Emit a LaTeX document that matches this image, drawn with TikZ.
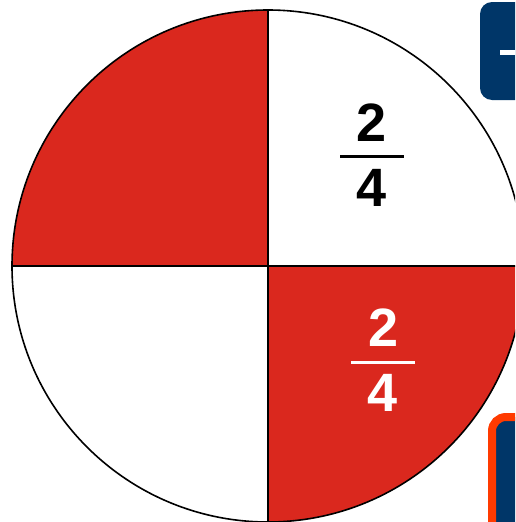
\documentclass[tikz,border=0pt]{standalone}
\usepackage{fontspec}
\setmainfont{Liberation Sans}
\definecolor{pred}{RGB}{218,40,30}
\definecolor{dblue}{RGB}{0,54,104}
\definecolor{orng}{RGB}{255,58,0}
\begin{document}
\begin{tikzpicture}[x=1pt,y=-1pt,
  digit/.style={inner sep=0pt,font=\fontsize{54}{54}\selectfont\bfseries},
  edge/.style={line width=1.6pt,black}]
\useasboundingbox (0,0) rectangle (515,522);
\clip (0,0) rectangle (515,522);
\coordinate (c) at (268,266);
% quadrants
\fill[pred] (c) -- (12,266) arc[start angle=180,end angle=270,radius=256] -- cycle;
\fill[pred] (c) -- (524,266) arc[start angle=0,end angle=90,radius=256] -- cycle;
\draw[edge] (c) circle[radius=256];
\draw[edge] (268,10) -- (268,522);
\draw[edge] (12,266) -- (524,266);
% top fraction
\node[digit] (n1) at (371.5,122.5) {2};
\node[digit] (d1) at (371.5,187.5) {4};
\draw[line width=3pt] (340,156) -- (404,156);
% bottom fraction
\node[digit,text=white] (n2) at (383.5,327.5) {2};
\node[digit,text=white] (d2) at (383,392.5) {4};
\draw[line width=3pt,white] (351,362) -- (415,362);
% side boxes
\fill[dblue,rounded corners=12pt] (480,2) rectangle (560,100);
\fill[white] (500,50) rectangle (520,55);
\draw[orng,line width=8pt,fill=dblue,rounded corners=14pt] (492,417) rectangle (560,560);
\end{tikzpicture}
\end{document}
